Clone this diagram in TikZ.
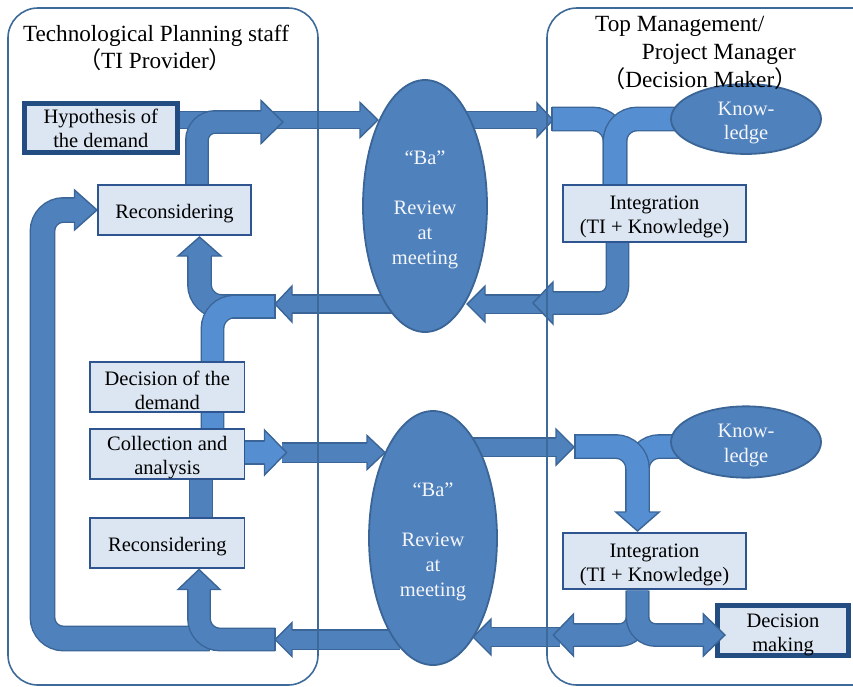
\documentclass[tikz,border=0pt]{standalone}
\usepackage{fontspec}
\setmainfont{Liberation Serif}
\newfontfamily\cjkfont{Noto Sans CJK JP}
\usetikzlibrary{shapes.geometric}

\definecolor{arrowdark}{HTML}{4F81BD}
\definecolor{arrowlight}{HTML}{568ED2}
\definecolor{arrowline}{HTML}{3A6596}
\definecolor{boxfill}{HTML}{DCE6F2}
\definecolor{boxline}{HTML}{2E5590}
\definecolor{thickline}{HTML}{234D80}
\definecolor{ellfill}{HTML}{4F81BD}
\definecolor{ellline}{HTML}{3A6596}
\definecolor{frameline}{HTML}{3E6A9A}
\definecolor{elltext}{HTML}{F4F6FA}

% horizontal arrow head: base x, tip x, centre y, half height, shaft width, fill
\newcommand{\hhead}[6]{\filldraw[fill=#6, draw=arrowline, line width=1.4pt]
  (#1,{#3-#5/2-0.7}) -- (#1,{#3-#4}) -- (#2,#3) -- (#1,{#3+#4}) -- (#1,{#3+#5/2+0.7});}
% vertical arrow head: base y, tip y, centre x, half width, shaft width, fill
\newcommand{\vhead}[6]{\filldraw[fill=#6, draw=arrowline, line width=1.4pt]
  ({#3-#5/2-0.7},#1) -- ({#3-#4},#1) -- (#3,#2) -- ({#3+#4},#1) -- ({#3+#5/2+0.7},#1);}
% flat closed end of a horizontal shaft: x, centre y, shaft width
\newcommand{\hcap}[3]{\draw[arrowline, line width=1.4pt] (#1,{#2-#3/2-1.4}) -- (#1,{#2+#3/2+1.4});}
% taller first line, so the text sits a little lower in its shape
\newcommand{\lowstrut}{\rule{0pt}{21pt}}

\begin{document}
\begin{tikzpicture}[x=1pt, y=-1pt,
  shaft/.style 2 args={draw=arrowline, line width=1.4pt, double=#1, double distance=#2pt},
  box/.style={draw=boxline, line width=1.8pt, fill=boxfill, align=center, inner sep=0pt,
    font=\fontsize{20.5}{24}\selectfont},
  keybox/.style={box, draw=thickline, line width=5pt},
  meet/.style={ellipse, draw=ellline, line width=1.8pt, fill=ellfill, text=elltext, align=center,
    inner sep=0pt, font=\fontsize{20.5}{25}\selectfont},
  title/.style={inner sep=0pt, font=\fontsize{23.2}{27}\selectfont},
  frame/.style={draw=frameline, line width=1.6pt}]
\useasboundingbox (0,0) rectangle (853,686);

% ---------- upper cycle ----------
\draw[shaft={arrowdark}{16}] (178,120) -- (361.5,120);
\hhead{360}{378}{120}{17.5}{16}{arrowdark}
\draw[shaft={arrowdark}{21}, rounded corners=18pt] (197,186) -- (197,122) -- (262.5,122);
\hhead{261}{283}{122}{21.5}{21}{arrowdark}
\draw[shaft={arrowdark}{16}] (450,120) -- (538.5,120);
\hhead{537}{553}{120}{17}{16}{arrowdark}
\draw[shaft={arrowlight}{22}, rounded corners=22pt] (552,119) -- (615,119) -- (615,186);
\hcap{552}{119}{22}
\draw[shaft={arrowlight}{22}, rounded corners=22pt] (690,119) -- (615,119) -- (615,186);
\draw[shaft={arrowdark}{17}] (556,304) -- (483.5,304);
\hhead{485}{467}{304}{18}{17}{arrowdark}
\draw[shaft={arrowdark}{21}, rounded corners=18pt] (617.5,241) -- (617.5,303) -- (551.5,303);
\hhead{553}{533}{303}{21}{21}{arrowdark}
\draw[shaft={arrowdark}{16.5}] (400,304) -- (290.5,304);
\hhead{292}{275}{304}{18}{16.5}{arrowdark}
\draw[shaft={arrowdark}{22}, rounded corners=22pt] (275,306.5) -- (199.5,306.5) -- (199.5,254.5);
\vhead{256}{237}{199.5}{21.5}{22}{arrowdark}
\draw[shaft={arrowlight}{21}, rounded corners=22pt] (275,306.5) -- (212.5,306.5) -- (212.5,430);
\hcap{275}{306.5}{22}
\draw[shaft={arrowdark}{22}] (201,478) -- (201,519);

% ---------- lower cycle ----------
\draw[shaft={arrowdark}{18}] (282,452.5) -- (368.5,452.5);
\hhead{367}{385}{452.5}{17}{18}{arrowdark}
\draw[shaft={arrowlight}{21.5}] (243,452.5) -- (266,452.5);
\hhead{264.5}{286.5}{452.5}{22.5}{21.5}{arrowlight}
\draw[shaft={arrowdark}{17}] (470,447) -- (557.5,447);
\hhead{556}{574}{447}{18}{17}{arrowdark}
\draw[shaft={arrowlight}{22}, rounded corners=22pt] (690,446.5) -- (637.5,446.5) -- (637.5,500);
\draw[shaft={arrowlight}{22}, rounded corners=22pt] (575,446.5) -- (637.5,446.5) -- (637.5,513.5);
\vhead{512}{531}{637.5}{21.7}{22}{arrowlight}
\hcap{575}{446.5}{22}

% ---------- feedback loops ----------
\draw[shaft={arrowdark}{23}, rounded corners=21pt] (209.5,638.5) -- (42.5,638.5) -- (42.5,210) -- (76,210);
\hhead{74.5}{97}{210}{20}{23}{arrowdark}
\hcap{209.5}{638.5}{23}
\draw[shaft={arrowdark}{21}, rounded corners=21pt] (275,639.5) -- (199,639.5) -- (199,588);
\vhead{589.5}{569.5}{199}{21}{21}{arrowdark}
\hcap{275}{639.5}{21}
\draw[shaft={arrowdark}{18}] (400,639.5) -- (290.5,639.5);
\hhead{292}{275}{639.5}{17}{18}{arrowdark}
\draw[shaft={arrowdark}{18}] (560,637) -- (489.5,637);
\hhead{491}{473}{637}{18}{18}{arrowdark}

% ---------- boxes ----------
\node[keybox, minimum width=153.3pt, minimum height=49pt] (hyp) at (100.8,128) {Hypothesis of\\the demand};
\node[box, minimum width=153.2pt, minimum height=50pt] (recA) at (174.5,210) {\lowstrut Reconsidering};
\node[box, minimum width=154.5pt, minimum height=50pt] (dec) at (167.3,387) {\lowstrut Decision of the\\demand};
\node[box, minimum width=154.5pt, minimum height=50pt] (col) at (167.3,454) {\lowstrut Collection and\\analysis};
\node[box, minimum width=154.5pt, minimum height=50pt] (recB) at (167.3,543) {\lowstrut Reconsidering};
\node[box, minimum width=183pt, minimum height=57pt] (intA) at (654.5,213.5) {\lowstrut Integration\\(TI + Knowledge)};
\node[box, minimum width=183pt, minimum height=56pt] (intB) at (654.5,561) {\lowstrut Integration\\(TI + Knowledge)};
\node[keybox, minimum width=131pt, minimum height=49.7pt] (dm) at (783,630.7) {\lowstrut Decision\\making};

% ---------- meetings and knowledge ----------
\node[meet, minimum width=124pt, minimum height=252pt] (baA) at (425,206) {\lowstrut “Ba”\\[25pt]Review\\at\\meeting};
\node[meet, minimum width=128pt, minimum height=254pt] (baB) at (433,538) {\lowstrut “Ba”\\[25pt]Review\\at\\meeting};
\node[meet, minimum width=150pt, minimum height=60pt, font=\fontsize{20.5}{24}\selectfont] (knA) at (746,119) {\lowstrut Know-\\ledge};
\node[meet, minimum width=150pt, minimum height=60pt, font=\fontsize{20.5}{25}\selectfont] (knB) at (746,442) {\lowstrut Know-\\ledge};

% ---------- split below the second integration ----------
\draw[shaft={arrowdark}{21}, rounded corners=18pt] (637.5,590.5) -- (637.5,635) -- (572,635);
\hhead{573.5}{553.3}{635}{21}{21}{arrowdark}
\draw[shaft={arrowdark}{21}, rounded corners=18pt] (637.5,590.5) -- (637.5,635) -- (704.5,635);
\hhead{703.3}{725}{635}{21}{21}{arrowdark}

% ---------- actor frames and headings ----------
\draw[frame, rounded corners=30pt] (8,8) rectangle (318,685);
\draw[frame, rounded corners=30pt] (547,8) rectangle (890,685);
\node[title, anchor=base] (tpsA) at (156,41.7) {Technological Planning staff};
\node[title, anchor=base] (tpsB) at (155,68.3) {{\cjkfont （}TI Provider{\cjkfont ）}};
\node[title, anchor=base west] (tmA) at (595,31.7) {Top Management/};
\node[title, anchor=base west] (tmB) at (641.7,59.3) {Project Manager};
\node[title, anchor=base west] (tmC) at (602,87.3) {{\cjkfont （}Decision Maker{\cjkfont ）}};
\end{tikzpicture}
\end{document}
